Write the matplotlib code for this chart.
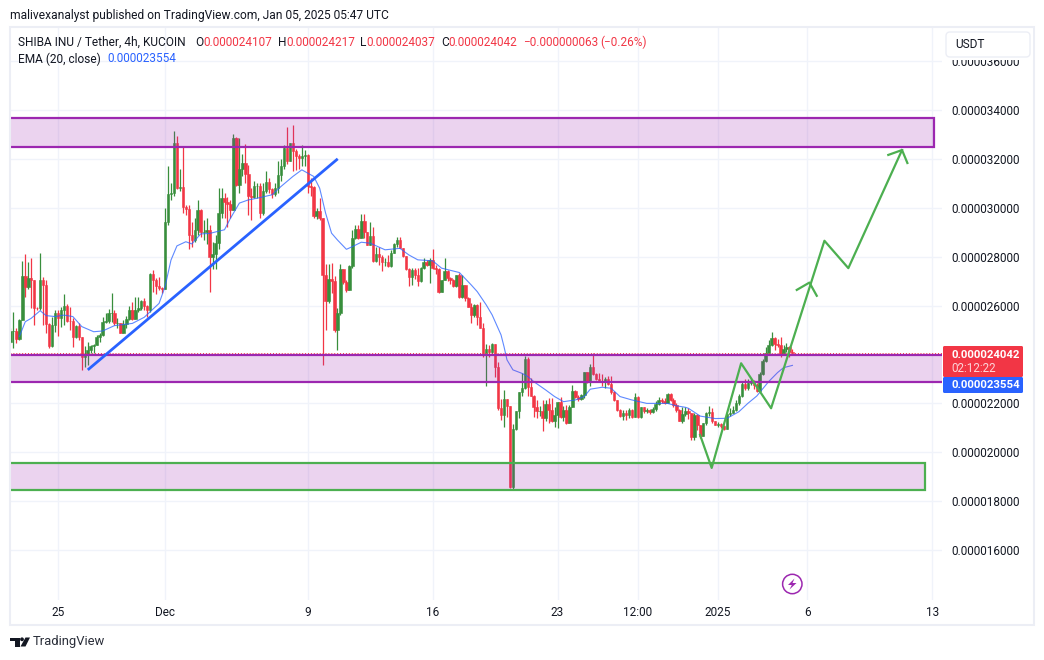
import matplotlib
matplotlib.use("Agg")
import matplotlib.pyplot as plt
import numpy as np
from matplotlib.patches import Rectangle, FancyBboxPatch, Circle, Polygon
from matplotlib.transforms import Affine2D

plt.rcParams['font.family'] = ['Roboto', 'DejaVu Sans']

# candle data, in millionths of USDT per SHIB
first_open = 24.52
closes = [
 24.95,24.95,24.62,25.41,27.21,26.77,27.11,27.05,25.91,25.88,
 27.05,26.84,25.23,24.35,25.2,25.68,25.48,25.82,25.98,25.38,
 25.35,24.73,25.16,24.7,23.91,23.98,24.18,24.35,24.39,24.73,
 24.8,25.34,25.38,25.68,25.68,25.27,25.27,24.89,25.23,25.44,
 25.82,25.44,25.82,25.89,26.2,25.98,25.82,27.29,27.05,26.8,
 26.7,26.66,29.4,30.57,30.62,32.64,30.8,30.85,30.05,29.95,
 28.9,28.7,29.1,29.9,29.0,29.0,29.1,28.0,28.1,28.57,
 29.8,30.4,30.25,30.15,29.9,32.87,30.95,31.6,31.85,31.4,
 30.5,30.45,30.87,30.87,29.8,30.67,31.07,30.75,30.55,30.8,
 31.34,31.69,32.43,31.93,32.64,32.3,32.1,32.03,32.1,32.15,
 30.87,30.85,29.65,29.85,29.6,27.25,26.2,27.1,27.0,25.0,25.7,
 27.5,26.95,26.64,27.62,28.75,29.13,28.78,29.46,29.0,28.48,
 28.85,27.83,28.1,28.0,27.8,27.8,27.62,28.14,28.52,28.68,
 28.37,28.03,27.48,27.16,27.46,27.25,27.0,27.53,27.8,27.66,
 27.87,27.53,27.5,26.57,27.05,27.42,27.14,27.05,26.8,27.25,
 26.37,26.85,26.3,25.96,25.62,26.03,25.55,25.1,23.98,24.21,
 24.12,24.43,23.5,21.8,21.53,22.17,21.9,18.57,20.94,21.69,
 22.46,22.62,23.8,22.69,22.32,21.87,21.67,21.67,21.39,21.96,
 21.73,21.3,21.53,22.07,21.46,21.73,21.2,21.87,22.51,22.28,
 22.17,22.35,23.3,22.92,23.48,23.19,23.0,22.89,22.86,23.0,
 22.8,22.46,22.12,21.71,21.49,21.6,21.53,21.73,21.46,22.28,
 21.46,21.84,21.67,21.73,21.64,21.76,21.98,22.14,22.1,22.03,
 22.39,22.14,21.94,21.71,21.3,21.56,21.67,21.6,20.64,
 21.53,21.12,20.68,21.18,21.6,21.66,21.28,21.12,21.15,21.08,
 20.94,21.55,21.62,21.73,22.0,22.3,22.78,22.64,22.82,22.89,
 22.75,22.52,23.2,23.75,24.05,24.39,24.66,24.43,24.39,23.98,
 24.21,24.29,24.1,24.042]
highs = [
 25.07,25.72,25.07,25.44,27.82,28.11,27.77,27.93,27.05,25.93,
 28.14,27.18,27.05,25.27,25.55,25.8,25.82,25.93,26.47,26.06,
 25.93,25.48,25.2,25.27,24.7,24.35,24.52,24.39,24.41,24.8,
 24.87,25.52,25.68,25.86,26.5,25.82,25.48,25.27,25.41,25.57,
 25.98,26.16,26.36,26.36,26.23,26.3,26.02,27.35,27.45,27.11,
 27.18,26.75,30.0,31.7,31.0,33.14,32.95,31.6,32.5,30.1,
 30.1,29.4,29.6,30.3,29.95,29.5,29.6,29.3,28.6,28.9,
 30.8,30.8,30.6,30.45,30.3,33.0,32.9,32.85,32.2,32.6,
 31.75,30.8,31.1,31.0,31.0,31.0,31.5,31.2,30.8,31.0,
 31.9,32.0,32.55,33.3,32.65,33.4,32.4,32.2,32.55,32.35,
 32.2,31.2,30.9,30.0,30.4,29.6,27.7,27.7,27.75,27.2,25.9,
 27.7,27.5,27.05,27.66,29.07,29.3,29.3,29.75,29.75,29.0,
 29.41,29.2,28.41,28.41,28.07,27.95,28.07,28.28,28.57,28.79,
 28.79,28.37,28.03,27.52,27.53,27.53,27.53,27.59,27.93,27.85,
 27.93,28.3,27.66,27.53,27.05,27.93,27.46,27.17,27.1,27.25,
 27.35,27.25,26.85,26.35,26.1,26.07,26.07,26.16,25.28,24.43,
 24.39,24.46,24.43,23.7,22.17,22.55,22.17,21.9,21.16,21.69,
 22.48,23.23,23.94,23.88,23.03,22.35,22.14,21.9,22.14,22.14,
 22.21,22.21,21.87,22.07,22.28,21.9,21.94,21.94,22.76,22.55,
 22.35,22.39,23.3,23.3,23.61,24.05,23.26,23.23,23.2,23.06,
 23.1,23.1,22.5,22.15,21.76,21.73,21.73,21.8,21.75,22.44,
 22.3,21.87,21.87,21.8,21.75,21.85,22.1,22.28,22.2,22.2,
 22.43,22.42,22.2,22.0,21.76,21.87,21.87,21.8,21.6,
 21.6,21.55,21.1,21.2,21.65,21.9,21.8,21.3,21.25,21.2,
 21.1,21.6,21.8,21.9,22.15,22.4,22.9,23.0,23.0,23.0,
 22.95,22.85,23.3,23.8,24.3,24.6,24.9,24.73,24.65,24.7,
 24.4,24.45,24.35,24.217]
lows = [
 24.46,24.25,24.46,24.59,25.41,26.36,26.66,25.9,25.2,25.8,
 25.82,25.2,24.86,24.25,24.3,24.9,24.75,25.14,25.2,25.34,
 25.0,24.32,24.66,24.59,23.37,23.5,23.57,24.05,24.05,24.39,
 24.52,24.76,25.3,25.3,25.34,25.2,25.07,24.86,24.86,25.07,
 25.41,25.41,25.44,25.75,25.82,25.82,25.52,25.75,26.57,26.47,
 26.64,26.5,26.66,29.3,30.3,30.5,30.75,30.7,29.8,29.7,
 28.3,28.4,28.6,28.9,28.8,28.7,28.5,26.57,27.5,27.5,
 28.3,29.6,29.6,29.2,29.6,29.9,30.9,30.6,31.3,31.0,
 29.7,29.5,30.4,30.4,29.6,29.7,30.6,30.6,30.4,30.5,
 30.6,31.1,31.6,31.8,31.9,31.5,31.55,31.6,31.7,31.7,
 30.6,30.5,29.6,29.55,29.5,23.57,25.0,26.1,26.5,24.9,24.2,
 25.6,26.9,26.57,26.64,27.53,28.71,28.71,28.75,28.75,28.46,
 28.48,27.8,27.8,27.66,27.43,27.6,27.59,27.59,28.14,28.41,
 28.34,28.0,27.45,26.8,26.84,27.1,26.8,26.98,27.48,27.6,
 26.91,27.48,27.3,26.53,26.57,27.05,27.0,26.9,26.75,26.75,
 26.3,26.3,26.2,25.95,25.3,25.55,25.2,25.07,23.9,22.73,
 23.9,24.0,23.06,21.73,21.32,21.05,21.46,18.55,18.49,20.9,
 21.4,22.3,22.6,22.3,22.3,21.46,21.4,21.5,20.89,21.3,
 21.19,21.25,21.05,20.98,21.4,21.3,21.17,21.2,21.85,22.2,
 22.1,22.14,22.2,22.85,22.72,23.16,22.96,22.89,22.7,22.62,
 22.75,22.4,22.1,21.7,21.46,21.32,21.32,21.4,21.4,21.46,
 21.4,21.39,21.6,21.6,21.55,21.6,21.7,21.93,22.0,21.98,
 22.0,22.1,21.87,21.65,21.3,21.2,21.5,21.35,20.5,
 20.5,20.9,20.6,20.65,21.1,21.5,21.2,21.1,21.05,21.0,
 20.9,20.94,21.5,21.6,21.7,21.95,22.25,22.55,22.55,22.75,
 22.6,22.45,22.5,23.15,23.7,24.0,24.35,24.2,24.3,23.9,
 23.98,24.1,23.9,24.037]

# EMA(20) read at selected bars
ema_bars = [3,5,7,10,12,15,18,21,24,28,31,35,41,45,50,52,54,56,59,61,64,67,72,74,77,80,83,88,91,95,98,102,104,106,108,110,113,115,118,121,126,131,134,137,142,145,151,155,157,160,162,165,166,167,169,172,174,176,180,183,186,190,193,195,199,202,205,209,214,221,224,227,228,232,237,241,245,248,251,255,258,260,263]
ema_vals = [24.73,25.34,25.48,25.79,25.59,25.55,25.61,25.55,25.14,24.93,24.96,25.18,25.27,25.52,26.09,26.77,27.86,28.44,28.61,28.52,28.93,28.95,29.1,29.57,30.19,30.32,30.39,30.53,30.87,31.28,31.55,31.28,30.8,29.78,28.96,28.68,28.3,28.41,28.59,28.55,28.28,28.34,28.07,27.87,27.83,27.53,27.35,26.84,26.57,26.03,25.62,24.8,24.32,23.78,23.37,23.23,23.1,22.89,22.55,22.28,22.07,22.14,22.28,22.58,22.66,22.62,22.28,22.14,22.0,22.0,21.9,21.84,21.8,21.48,21.38,21.39,21.66,22.0,22.3,22.89,23.26,23.46,23.554]

# drawings: x in days after 1 Dec 2024, y in millionths
zone_top = (33.67, 32.49, -9.5, 43.1)
zone_mid = (23.98, 22.87, -9.5, 44.5)
zone_low = (19.57, 18.46, -9.5, 42.6)
trend_days = [-4.33, 9.68]
trend_prices = [23.37, 32.0]
path_days = [29.99, 30.64, 32.29, 33.97, 36.96, 38.3, 41.31]
path_prices = [20.71, 19.36, 23.64, 21.8, 28.65, 27.53, 32.36]
head1_days = [35.41, 36.12, 36.53]
head1_prices = [26.64, 26.94, 26.4]
head2_days = [40.54, 41.31, 41.61]
head2_prices = [32.16, 32.36, 31.83]

last_price = 24.042
last_ema = 23.554
y_ticks = [16, 18, 20, 22, 24, 26, 28, 30, 32, 34, 36]
x_tick_days = [-6, 0, 8, 15, 22, 26.5, 31, 36, 43]
x_tick_labels = ['25', 'Dec', '9', '16', '23', '12:00', '2025', '6', '13']

GREEN = '#388e3c'
RED = '#f23645'
BLUE = '#2962ff'
PURPLE = '#9c27b0'
ZGREEN = '#4caf50'
INK = '#131722'
GRID = '#f0f3fa'
W, H = 1044, 660

fig = plt.figure(figsize=(W/100, H/100), dpi=100, facecolor='white')
px = Affine2D().scale(1/W, -1/H).translate(0, 1) + fig.transFigure


def T(x, y, s, color=INK, size=8.6, weight='normal', ha='left', alpha=1):
    fig.text(x, y, s, transform=px, color=color, fontsize=size, fontweight=weight,
             ha=ha, va='center', alpha=alpha, zorder=10)


ax = fig.add_axes([10/W, 1-600/H, 932/W, 572/H])
ax.set_xlim(-8.69, 43.55)
ax.set_ylim(13.96, 37.35)
for s in ax.spines.values():
    s.set_visible(False)
ax.yaxis.tick_right()
ax.set_yticks(y_ticks)
ax.set_yticklabels(['' if v == 24 else f'{v/1e6:.9f}' for v in y_ticks])
ax.set_xticks(x_tick_days)
ax.set_xticklabels(x_tick_labels)
ax.tick_params(axis='both', length=0, labelsize=8.5, labelcolor=INK)
ax.tick_params(axis='y', pad=6.5)
ax.tick_params(axis='x', pad=4)
ax.grid(True, color=GRID, lw=1.0, zorder=0)
ax.set_axisbelow(True)

closes_a = np.array(closes)
opens_a = np.r_[first_open, closes_a[:-1]]
times = 35 + 1/6 - (len(closes_a) - 1 - np.arange(len(closes_a))) / 6
cols = [GREEN if c >= o else RED for o, c in zip(opens_a, closes_a)]
ax.vlines(times, lows, highs, colors=cols, lw=0.9, zorder=2)
ax.bar(times, closes_a - opens_a, bottom=opens_a, width=0.14, color=cols,
       edgecolor=cols, linewidth=0.4, zorder=3)
ax.plot(times[ema_bars], ema_vals, color=BLUE, lw=0.8, alpha=0.75, zorder=4)

for (top, bot, x0, x1), col in [(zone_top, PURPLE), (zone_mid, PURPLE), (zone_low, ZGREEN)]:
    ax.add_patch(Rectangle((x0, bot), x1 - x0, top - bot, facecolor=PURPLE, alpha=0.2,
                           edgecolor='none', zorder=5))
    ax.add_patch(Rectangle((x0, bot), x1 - x0, top - bot, facecolor='none',
                           edgecolor=col, lw=1.6, zorder=6))

ax.axhline(last_price, color=RED, lw=0.7, ls=(0, (1, 2)), zorder=6.5)
ax.plot(trend_days, trend_prices, color=BLUE, lw=2.0, solid_capstyle='butt', zorder=7)
ax.plot(path_days, path_prices, color=ZGREEN, lw=1.6, zorder=7)
ax.plot(head1_days, head1_prices, color=ZGREEN, lw=1.6, zorder=7)
ax.plot(head2_days, head2_prices, color=ZGREEN, lw=1.6, zorder=7)

# chart frame
fig.add_artist(Rectangle((10, 27), 1024, 598, transform=px, facecolor='none',
                         edgecolor='#eceef5', lw=1.5, zorder=8))
# currency button
fig.add_artist(Rectangle((943, 29), 90, 30.5, transform=px, facecolor='white',
                         edgecolor='none', zorder=8))
fig.add_artist(FancyBboxPatch((946, 32), 84, 25, boxstyle='round,pad=0,rounding_size=4',
                              transform=px, facecolor='white', edgecolor='#eceef5', lw=1, zorder=9))
T(955, 44.5, 'USDT', size=8.6)

# price labels
fig.add_artist(FancyBboxPatch((943, 346), 80, 31, boxstyle='round,pad=0,rounding_size=1.5',
                              transform=px, facecolor=RED, edgecolor='none', zorder=9))
fig.add_artist(FancyBboxPatch((943, 377), 80, 16, boxstyle='round,pad=0,rounding_size=1.5',
                              transform=px, facecolor=BLUE, edgecolor='none', zorder=9))
T(951, 354.5, f'{last_price/1e6:.9f}', color='white', size=8.2, weight='bold')
T(951, 368, '02:12:22', color='#fcd5d9', size=8.4)
T(951, 385.5, f'{last_ema/1e6:.9f}', color='white', size=8.2, weight='bold')

# header and legend
T(10, 15, 'malivexanalyst published on TradingView.com, Jan 05, 2025 05:47 UTC', size=8.65)
T(18, 42, 'SHIBA INU / Tether, 4h, KUCOIN', size=8.6)
for xl, lab, xv, val in [(195, 'O', 203, '0.000024107'), (278, 'H', 286, '0.000024217'),
                         (360, 'L', 366, '0.000024037'), (441, 'C', 448, '0.000024042')]:
    T(xl, 42, lab, size=8.6)
    T(xv, 42, val, color=RED, size=8.5)
T(523, 42, '\u22120.000000063', color=RED, size=8.5)
T(600, 42, '(\u22120.26%)', color=RED, size=8.5)
T(18, 59, 'EMA (20, close)', size=8.6)
T(107, 59, '0.000023554', color=BLUE, size=8.5)

# publish marker
fig.add_artist(Circle((792.3, 584), 9.7, transform=px, facecolor='white', edgecolor=PURPLE,
                      lw=1.1, zorder=9))
fig.add_artist(Polygon([(794.5, 578.5), (788, 585), (791.8, 585), (789.5, 589.5), (796.5, 583),
                        (792.5, 583)], closed=True, transform=px, facecolor=PURPLE,
                       edgecolor='none', zorder=10))

# TradingView mark
fig.add_artist(Polygon([(10, 637.5), (19.5, 637.5), (19.5, 646.5), (14.5, 646.5), (14.5, 641), (10, 641)],
                       closed=True, transform=px, facecolor=INK, edgecolor='none', zorder=9))
fig.add_artist(Circle((22, 639.3), 1.9, transform=px, facecolor=INK, edgecolor='none', zorder=9))
fig.add_artist(Polygon([(25.5, 637.5), (30, 637.5), (25.5, 646.5), (20.5, 646.5)],
                       closed=True, transform=px, facecolor=INK, edgecolor='none', zorder=9))
T(33, 642, 'TradingView', size=9.4, color='#2a2e39')

fig.savefig('out.png', dpi=100, facecolor='white')
